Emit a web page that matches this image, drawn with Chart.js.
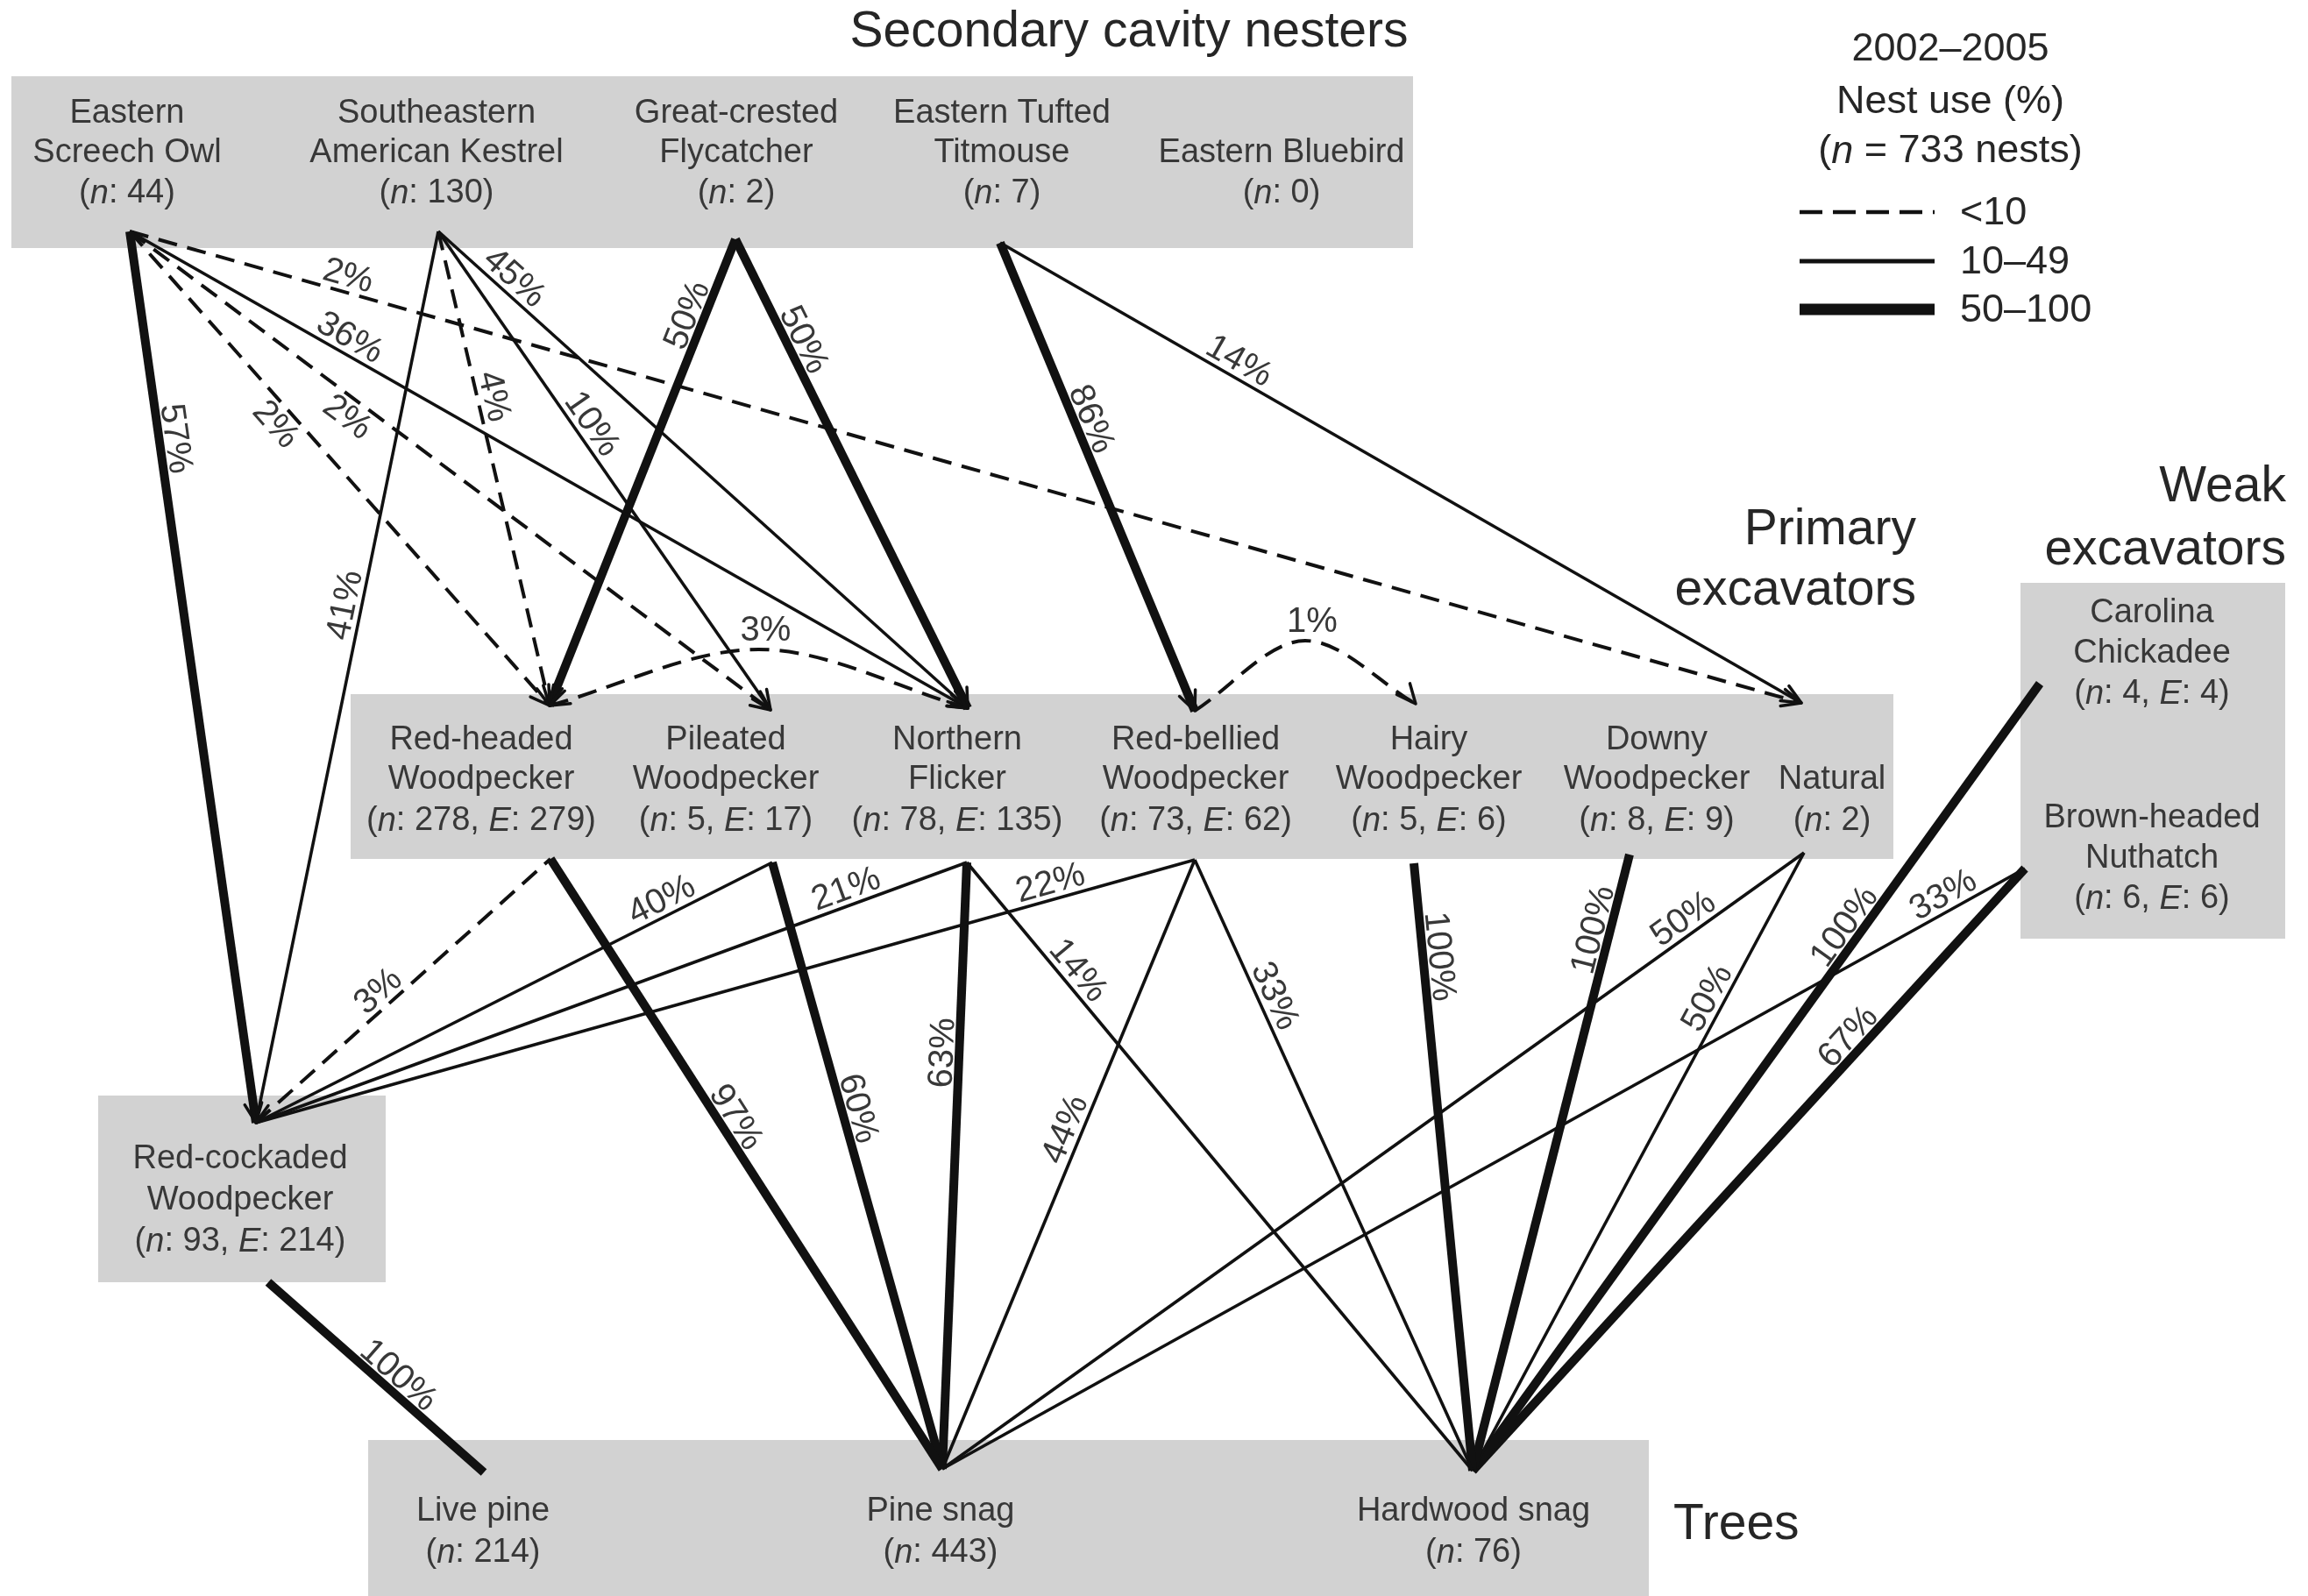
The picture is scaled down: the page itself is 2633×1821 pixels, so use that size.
<!DOCTYPE html>
<html>
<head>
<meta charset="utf-8">
<script src="https://cdn.jsdelivr.net/npm/chart.js@4.4.1/dist/chart.umd.min.js"></script>
<style>
  html, body { margin: 0; padding: 0; background: #fff; }
  #wrap { width: 2633px; height: 1821px; position: relative; }
</style>
</head>
<body>
<div id="wrap"><canvas id="net"></canvas></div>
<script>
const W = 2633, H = 1821;

// secondary cavity nesters
const topIds = ['ESO', 'SAK', 'GCF', 'ETT', 'EB'];
const topNames = [['Eastern', 'Screech Owl'], ['Southeastern', 'American Kestrel'], ['Great-crested', 'Flycatcher'], ['Eastern Tufted', 'Titmouse'], ['Eastern Bluebird']];
const topN = [44, 130, 2, 7, 0];

// primary excavators
const primIds = ['RHW', 'PW', 'NF', 'RBW', 'HW', 'DW', 'NAT'];
const primNames = [['Red-headed', 'Woodpecker'], ['Pileated', 'Woodpecker'], ['Northern', 'Flicker'], ['Red-bellied', 'Woodpecker'], ['Hairy', 'Woodpecker'], ['Downy', 'Woodpecker'], ['Natural']];
const primN = [278, 5, 78, 73, 5, 8, 2];
const primE = [279, 17, 135, 62, 6, 9, null];

// weak excavators
const weakIds = ['CC', 'BHN'];
const weakNames = [['Carolina', 'Chickadee'], ['Brown-headed', 'Nuthatch']];
const weakN = [4, 6];
const weakE = [4, 6];

const rcwName = ['Red-cockaded', 'Woodpecker'];
const rcwN = 93, rcwE = 214;

// trees
const treeIds = ['LP', 'PS', 'HS'];
const treeNames = [['Live pine'], ['Pine snag'], ['Hardwood snag']];
const treeN = [214, 443, 76];

// nest use links (%)
const edgeFrom = ['ESO', 'ESO', 'ESO', 'ESO', 'ESO', 'SAK', 'SAK', 'SAK', 'SAK', 'GCF', 'GCF', 'ETT', 'ETT',
  'RCW', 'RCW', 'RCW', 'RCW', 'RHW', 'PW', 'NF', 'NF', 'RBW', 'RBW', 'HW', 'DW', 'NAT', 'NAT', 'CC', 'BHN', 'BHN', 'RCW'];
const edgeTo = ['RCW', 'NAT', 'NF', 'RHW', 'PW', 'RCW', 'RHW', 'PW', 'NF', 'RHW', 'NF', 'RBW', 'NAT',
  'RHW', 'PW', 'NF', 'RBW', 'PS', 'PS', 'PS', 'HS', 'PS', 'HS', 'HS', 'HS', 'PS', 'HS', 'HS', 'PS', 'HS', 'LP'];
const edgePct = [57, 2, 36, 2, 2, 41, 4, 10, 45, 50, 50, 86, 14,
  3, 40, 21, 22, 97, 60, 63, 14, 44, 33, 100, 100, 50, 50, 100, 33, 67, 100];

// curved links between primary excavators
const arcFrom = ['RHW', 'RBW'];
const arcTo = ['NF', 'HW'];
const arcPct = [3, 1];

const legendTitle = ['2002–2005', 'Nest use (%)'];
const legendTotal = 733;
const legendClasses = ['<10', '10–49', '50–100'];

// drawn thin in the original even though 50%
const drawnThin = ['NAT-PS', 'NAT-HS'];

// ---------- layout ----------
const port = {
  ESO: { lv: 180, bot: [148, 264] }, SAK: { lv: 180, bot: [500, 264] }, GCF: { lv: 180, bot: [839, 273] }, ETT: { lv: 180, bot: [1141, 277] },
  RHW: { lv: 890, top: [627, 805], bot: [628, 980] }, PW: { lv: 890, top: [879, 810], bot: [881, 984] },
  NF: { lv: 890, top: [1104, 808], bot: [1103, 984] }, RBW: { lv: 890, top: [1363, 811], bot: [1363, 981] },
  HW: { lv: 890, top: [1615, 803], bot: [1613, 985] }, DW: { lv: 890, bot: [1859, 975] },
  NAT: { lv: 890, top: [2055, 802], bot: [2058, 973] },
  RCW: { lv: 1360, top: [292, 1281], bot: [306, 1463] },
  CC: { lv: 850, bot: [2327, 780] }, BHN: { lv: 850, bot: [2310, 991] },
  LP: { lv: 1740, top: [552, 1680] }, PS: { lv: 1740, top: [1075, 1676] }, HS: { lv: 1740, top: [1680, 1678] }
};
const arcRise = [64, 72];

// [t along link, side] ; side 1 = above text, -1 = below
const labelPos = {
  'ESO-RCW': [0.235, 1], 'ESO-NAT': [0.128, 1], 'ESO-NF': [0.253, 1], 'ESO-RHW': [0.381, -1], 'ESO-PW': [0.357, -1],
  'SAK-RCW': [0.423, 1], 'SAK-RHW': [0.356, 1], 'SAK-PW': [0.422, 1], 'SAK-NF': [0.123, 1],
  'GCF-RHW': [0.176, 1], 'GCF-NF': [0.23, 1], 'ETT-RBW': [0.39, 1], 'ETT-NAT': [0.288, 1],
  'RCW-RHW': [0.452, 1], 'RCW-PW': [0.80, 1], 'RCW-NF': [0.838, 1], 'RCW-RBW': [0.851, 1],
  'RHW-PS': [0.438, 1], 'PW-PS': [0.413, 1], 'NF-PS': [0.315, 1], 'NF-HS': [0.195, 1],
  'RBW-PS': [0.453, 1], 'RBW-HS': [0.234, 1], 'HW-HS': [0.156, 1], 'DW-HS': [0.129, 1],
  'NAT-PS': [0.129, 1], 'NAT-HS': [0.248, 1], 'CC-HS': [0.321, 1], 'BHN-PS': [0.068, 1], 'BHN-HS': [0.298, 1],
  'RCW-LP': [0.554, 1]
};

const boxes = [
  [13, 87, 1612, 283], [400, 792, 2160, 980], [2305, 665, 2607, 1071],
  [112, 1250, 440, 1463], [420, 1643, 1881, 1821]
];

const FAM = '"Liberation Sans", Arial, Helvetica, sans-serif';
const BOX = '#d2d2d2';
const INK = '#383838';

function pickPort(id, other) {
  const p = port[id];
  if (p.top && p.bot) return port[other].lv < p.lv ? p.top : p.bot;
  return p.top || p.bot;
}

function lineStyle(pct, key) {
  if (pct < 10) return { w: 4, dash: [22, 12] };
  if (pct < 50 || drawnThin.includes(key)) return { w: 3.6, dash: [] };
  return { w: 10, dash: [] };
}

const datasets = edgeFrom.map((f, i) => {
  const t = edgeTo[i];
  const a = pickPort(f, t), b = pickPort(t, f);
  const s = lineStyle(edgePct[i], f + '-' + t);
  return {
    label: f + '-' + t,
    data: [{ x: a[0], y: a[1] }, { x: b[0], y: b[1] }],
    borderColor: '#111', borderWidth: s.w, borderDash: s.dash,
    pointRadius: 0, tension: 0, fill: false
  };
});
arcFrom.forEach((f, i) => {
  const a = port[f].top, b = port[arcTo[i]].top;
  const s = lineStyle(arcPct[i], f + '-' + arcTo[i]);
  datasets.push({
    label: 'arc-' + i,
    data: [{ x: a[0], y: a[1] }, { x: (a[0] + b[0]) / 2, y: Math.min(a[1], b[1]) - arcRise[i] }, { x: b[0], y: b[1] }],
    borderColor: '#111', borderWidth: s.w, borderDash: s.dash,
    pointRadius: 0, cubicInterpolationMode: 'monotone', fill: false
  });
});

function countParts(n, E) {
  const p = [['(', 0], ['n', 1], [': ' + n, 0]];
  if (E != null) p.push([', ', 0], ['E', 1], [': ' + E, 0]);
  p.push([')', 0]);
  return p;
}

function drawParts(ctx, parts, x, y, size, align) {
  let w = 0;
  parts.forEach(([t, it]) => { ctx.font = (it ? 'italic ' : '') + size + 'px ' + FAM; w += ctx.measureText(t).width; });
  let cx = align === 'left' ? x : align === 'right' ? x - w : x - w / 2;
  ctx.textAlign = 'left';
  ctx.textBaseline = 'middle';
  parts.forEach(([t, it]) => {
    ctx.font = (it ? 'italic ' : '') + size + 'px ' + FAM;
    ctx.fillText(t, cx, y);
    cx += ctx.measureText(t).width;
  });
}

function nodeText(ctx, sx, sy, name, n, E, cx, ys) {
  const lines = name.map(s => [[s, 0]]);
  lines.push(countParts(n, E));
  const off = ys.length - lines.length;
  lines.forEach((parts, k) => drawParts(ctx, parts, sx(cx), sy(ys[k + off]), 38, 'center'));
}

function arrowHead(ctx, x1, y1, x0, y0, len, w) {
  const a = Math.atan2(y1 - y0, x1 - x0);
  ctx.save();
  ctx.setLineDash([]);
  ctx.lineWidth = w;
  ctx.strokeStyle = '#111';
  ctx.lineCap = 'round';
  ctx.beginPath();
  [0.42, -0.42].forEach(d => {
    ctx.moveTo(x1, y1);
    ctx.lineTo(x1 - len * Math.cos(a + d), y1 - len * Math.sin(a + d));
  });
  ctx.stroke();
  ctx.restore();
}

const netPlugin = {
  id: 'net',
  beforeDatasetsDraw(chart) {
    const ctx = chart.ctx, sx = v => chart.scales.x.getPixelForValue(v), sy = v => chart.scales.y.getPixelForValue(v);
    ctx.save();
    ctx.fillStyle = BOX;
    boxes.forEach(b => ctx.fillRect(sx(b[0]), sy(b[1]), sx(b[2]) - sx(b[0]), sy(b[3]) - sy(b[1])));
    ctx.restore();
  },
  afterDatasetsDraw(chart) {
    const ctx = chart.ctx, sx = v => chart.scales.x.getPixelForValue(v), sy = v => chart.scales.y.getPixelForValue(v);
    ctx.save();

    // arrowheads on links into the excavators
    edgeFrom.forEach((f, i) => {
      if (!topIds.includes(f)) return;
      const t = edgeTo[i];
      const a = pickPort(f, t), b = pickPort(t, f);
      arrowHead(ctx, sx(b[0]), sy(b[1]), sx(a[0]), sy(a[1]), 24, 3.5);
    });
    arcFrom.forEach((f, i) => {
      const a = port[f].top, b = port[arcTo[i]].top;
      const mx = (a[0] + b[0]) / 2, my = Math.min(a[1], b[1]) - arcRise[i];
      arrowHead(ctx, sx(b[0]), sy(b[1]), sx(mx + (b[0] - mx) * 0.55), sy(my + 4), 24, 3.5);
      if (i === 0) arrowHead(ctx, sx(a[0]), sy(a[1]), sx(mx - (mx - a[0]) * 0.55), sy(my + 4), 24, 3.5);
    });

    // percentage labels along links
    ctx.fillStyle = INK;
    ctx.font = '40px ' + FAM;
    ctx.textAlign = 'center';
    edgeFrom.forEach((f, i) => {
      const t = edgeTo[i], key = f + '-' + t;
      const a = pickPort(f, t), b = pickPort(t, f);
      const [tt, side] = labelPos[key];
      const x0 = sx(a[0]), y0 = sy(a[1]), x1 = sx(b[0]), y1 = sy(b[1]);
      let ang = Math.atan2(y1 - y0, x1 - x0);
      if (ang > Math.PI / 2) ang -= Math.PI;
      if (ang <= -Math.PI / 2) ang += Math.PI;
      ctx.save();
      ctx.translate(x0 + (x1 - x0) * tt, y0 + (y1 - y0) * tt);
      ctx.rotate(ang);
      if (side > 0) { ctx.textBaseline = 'alphabetic'; ctx.fillText(edgePct[i] + '%', 0, -7); }
      else { ctx.textBaseline = 'top'; ctx.fillText(edgePct[i] + '%', 0, 2); }
      ctx.restore();
    });
    arcFrom.forEach((f, i) => {
      const a = port[f].top, b = port[arcTo[i]].top;
      ctx.textBaseline = 'alphabetic';
      ctx.fillText(arcPct[i] + '%', sx((a[0] + b[0]) / 2 + 8), sy(Math.min(a[1], b[1]) - arcRise[i] - 10));
    });

    // node labels
    ctx.fillStyle = INK;
    const topX = [145, 498, 840, 1143, 1462];
    topIds.forEach((id, i) => nodeText(ctx, sx, sy, topNames[i], topN[i], null, topX[i], [130, 175, 221]));
    const primX = [549, 828, 1092, 1364, 1630, 1890, 2090];
    primIds.forEach((id, i) => nodeText(ctx, sx, sy, primNames[i], primN[i], primE[i], primX[i], [845, 890, 937]));
    const weakY = [[700, 746, 792], [934, 980, 1026]];
    weakIds.forEach((id, i) => nodeText(ctx, sx, sy, weakNames[i], weakN[i], weakE[i], 2455, weakY[i]));
    nodeText(ctx, sx, sy, rcwName, rcwN, rcwE, 274, [1323, 1370, 1417]);
    const treeX = [551, 1073, 1681];
    treeIds.forEach((id, i) => nodeText(ctx, sx, sy, treeNames[i], treeN[i], null, treeX[i], [1725, 1772]));

    // group titles
    ctx.fillStyle = '#262626';
    drawParts(ctx, [['Secondary cavity nesters', 0]], sx(1288), sy(37), 57, 'center');
    drawParts(ctx, [['Primary', 0]], sx(2186), sy(605), 57, 'right');
    drawParts(ctx, [['excavators', 0]], sx(2186), sy(674), 57, 'right');
    drawParts(ctx, [['Weak', 0]], sx(2608), sy(556), 57, 'right');
    drawParts(ctx, [['excavators', 0]], sx(2608), sy(628), 57, 'right');
    drawParts(ctx, [['Trees', 0]], sx(1909), sy(1740), 57, 'left');

    // legend
    drawParts(ctx, [[legendTitle[0], 0]], sx(2225), sy(57), 45, 'center');
    drawParts(ctx, [[legendTitle[1], 0]], sx(2225), sy(117), 45, 'center');
    drawParts(ctx, [['(', 0], ['n', 1], [' = ' + legendTotal + ' nests)', 0]], sx(2225), sy(173), 45, 'center');
    const legY = [242, 298, 353];
    const legStyle = [{ w: 4.5, dash: [26, 12] }, { w: 5, dash: [] }, { w: 13, dash: [] }];
    legendClasses.forEach((c, k) => {
      ctx.save();
      ctx.strokeStyle = '#111';
      ctx.lineWidth = legStyle[k].w;
      ctx.setLineDash(legStyle[k].dash);
      ctx.beginPath();
      ctx.moveTo(sx(2053), sy(legY[k]));
      ctx.lineTo(sx(2207), sy(legY[k]));
      ctx.stroke();
      ctx.restore();
      drawParts(ctx, [[c, 0]], sx(2236), sy(legY[k] + 2), 45, 'left');
    });
    ctx.restore();
  }
};

new Chart(document.getElementById('net'), {
  type: 'line',
  data: { datasets: datasets },
  options: {
    responsive: true,
    maintainAspectRatio: false,
    devicePixelRatio: 1,
    animation: false,
    events: [],
    layout: { padding: 0 },
    plugins: { legend: { display: false }, tooltip: { enabled: false }, title: { display: false } },
    scales: {
      x: { type: 'linear', min: 0, max: W, display: false },
      y: { type: 'linear', min: 0, max: H, reverse: true, display: false }
    }
  },
  plugins: [netPlugin]
});
</script>
</body>
</html>
